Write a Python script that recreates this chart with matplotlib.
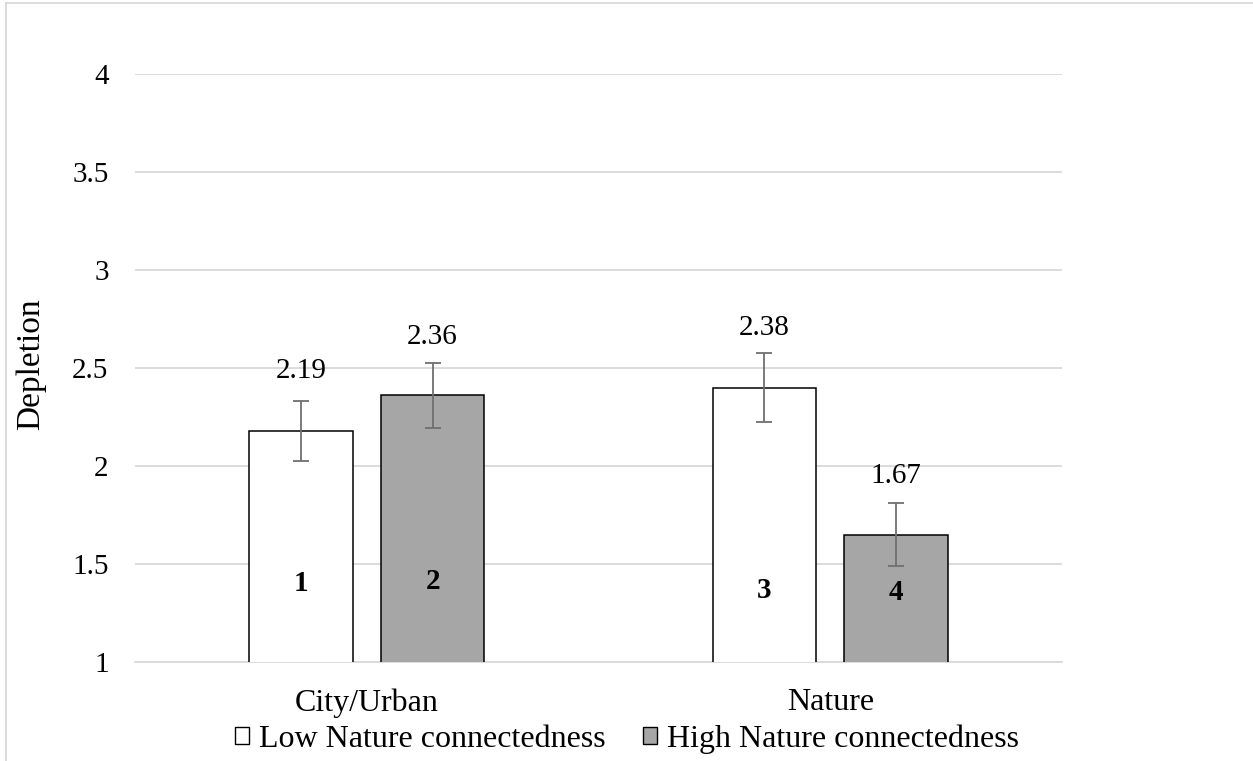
import matplotlib
matplotlib.use("Agg")
import matplotlib.pyplot as plt
from matplotlib.lines import Line2D
from matplotlib.patches import Patch
import numpy as np

plt.rcParams['font.family'] = ['Liberation Serif', 'DejaVu Serif']

categories = ["City/Urban", "Nature"]
series_names = ["Low Nature connectedness", "High Nature connectedness"]
low_values = [2.18, 2.40]
high_values = [2.36, 1.65]
low_err = [0.152, 0.178]
high_err = [0.164, 0.161]
low_labels = ["2.19", "2.38"]
high_labels = ["2.36", "1.67"]
bar_ids_low = ["1", "3"]
bar_ids_high = ["2", "4"]
bar_id_y_low = [1.40, 1.365]
bar_id_y_high = [1.41, 1.355]
yticks = [1, 1.5, 2, 2.5, 3, 3.5, 4]
ytick_labels = ["1", "1.5", "2", "2.5", "3", "3.5", "4"]

W, H = 1253, 761
fig = plt.figure(figsize=(W / 100, H / 100), dpi=100)
ax = fig.add_axes([135 / W, (H - 662) / H, (1062 - 135) / W, (662 - 74) / H])

x = np.arange(len(categories))
width = 0.224
off = 0.142
grid_col = '#d9d9d9'
err_col = '#6f6f6f'
fs = 21
fs_big = 23

ax.bar(x - off, low_values, width, color='white', edgecolor='black', linewidth=1.1, zorder=3)
ax.bar(x + off, high_values, width, color='#a6a6a6', edgecolor='black', linewidth=1.1, zorder=3)
ax.errorbar(x - off, low_values, yerr=low_err, fmt='none', ecolor=err_col, elinewidth=1.3, capsize=6, capthick=1.3, zorder=4)
ax.errorbar(x + off, high_values, yerr=high_err, fmt='none', ecolor=err_col, elinewidth=1.3, capsize=6, capthick=1.3, zorder=4)

for xi, v, lab in zip(x - off, low_values, low_labels):
    ax.annotate(lab, (xi, v), xytext=(0, 43), textcoords='offset points', ha='center', va='center', fontsize=fs)
for xi, v, lab in zip(x + off, high_values, high_labels):
    ax.annotate(lab, (xi, v), xytext=(0, 42), textcoords='offset points', ha='center', va='center', fontsize=fs)
for xi, yv, lab in zip(x - off, bar_id_y_low, bar_ids_low):
    ax.text(xi, yv, lab, ha='center', va='center', fontsize=fs, fontweight='bold', zorder=5)
for xi, yv, lab in zip(x + off, bar_id_y_high, bar_ids_high):
    ax.text(xi, yv, lab, ha='center', va='center', fontsize=fs, fontweight='bold', zorder=5)

ax.set_ylim(1, 4)
ax.set_xlim(-0.5, 1.5)
ax.set_yticks(yticks)
ax.set_yticklabels(ytick_labels, fontsize=fs)
ax.set_xticks(x)
ax.set_xticklabels(categories, fontsize=fs_big)
ax.tick_params(axis='y', length=0, pad=19)
ax.tick_params(axis='x', length=0, pad=19)
ax.grid(axis='y', color=grid_col, linewidth=1.3, zorder=0)
ax.set_axisbelow(True)
for s in ['top', 'right', 'left']:
    ax.spines[s].set_visible(False)
ax.spines['bottom'].set_color(grid_col)
ax.spines['bottom'].set_linewidth(1.3)

fig.text(31 / W, (H - 364) / H, "Depletion", rotation=90, ha='center', va='center', fontsize=24)

handles = [Patch(facecolor='white', edgecolor='black', linewidth=1.0),
           Patch(facecolor='#a6a6a6', edgecolor='black', linewidth=1.0)]
fig.legend(handles, series_names, loc='center', bbox_to_anchor=(627 / W, (H - 739) / H), ncol=2,
           frameon=False, fontsize=fs_big, handlelength=0.44, handleheight=0.44, handletextpad=0.31,
           columnspacing=1.15, borderpad=0)

fig.add_artist(Line2D([6 / W, 6 / W], [0, 1 - 3 / H], color=grid_col, linewidth=1.3, transform=fig.transFigure))
fig.add_artist(Line2D([6 / W, 1], [1 - 3 / H, 1 - 3 / H], color=grid_col, linewidth=1.3, transform=fig.transFigure))

fig.savefig("out.png", dpi=100)
